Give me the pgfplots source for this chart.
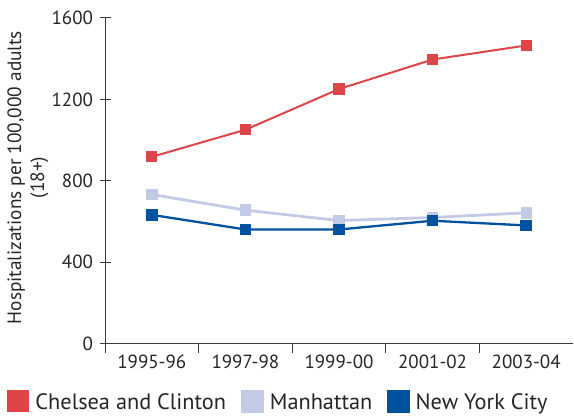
\documentclass[border=0pt]{standalone}
\usepackage{pgfplots}
\pgfplotsset{compat=1.18}
\usepackage{fontspec}
\setmainfont{PT Sans}
\definecolor{cred}{HTML}{DE4548}
\definecolor{clav}{HTML}{C3CAE6}
\definecolor{cblue}{HTML}{00519E}
\definecolor{axc}{HTML}{3A3A3A}
\begin{document}
\begin{tikzpicture}
\begin{axis}[
  name=ax,
  width=468pt, height=325.7pt, scale only axis,
  xmin=-0.5, xmax=4.5, ymin=0, ymax=1600,
  axis x line*=bottom, axis y line*=left,
  axis line style={axc, line width=1pt},
  xtick={0,1,2,3,4},
  xticklabels={1995-96,1997-98,1999-00,2001-02,2003-04},
  xtick style={draw=none},
  extra x ticks={-0.5,0.5,1.5,2.5,3.5},
  extra x tick labels={},
  extra x tick style={tick align=outside, major tick length=9pt, xtick style={draw=axc, line width=1pt}},
  ytick={0,400,800,1200,1600},
  tick align=center, major tick length=11pt,
  ytick style={axc, line width=1pt},
  tick label style={font=\fontsize{19}{19}\selectfont, text=black!85},
  yticklabel style={xshift=-3pt},
  xticklabel style={yshift=-2pt},
  /pgf/number format/assume math mode=true,
  /pgf/number format/1000 sep={},
  ylabel={Hospitalizations per 100,000 adults\\(18+)},
  ylabel style={at={([xshift=-77pt,yshift=3.3pt]axis description cs:0,0.5)}, anchor=center,
    align=center, font=\fontsize{19.3}{23}\selectfont, text=black!85},
  legend style={at={([xshift=-97.7pt,yshift=-57.5pt]axis description cs:0,0)}, anchor=west,
    draw=none, legend columns=3, font=\fontsize{22.3}{22}\selectfont, text=black!85,
    inner sep=0pt, nodes={inner sep=0pt},
    /tikz/every odd column/.append style={column sep=6pt},
    /tikz/every even column/.append style={column sep=15pt}},
  legend image code/.code={\fill[#1] (0pt,-9pt) rectangle (20pt,11.5pt);},
]
\addplot[cred, line width=2pt, mark=square*, mark size=4.6pt] coordinates {(0,918) (1,1051) (2,1251) (3,1396) (4,1465)};
\addlegendentry{Chelsea and Clinton}
\addplot[clav, line width=2.8pt, mark=square*, mark size=4.3pt] coordinates {(0,733) (1,656) (2,605) (3,620) (4,643)};
\addlegendentry{Manhattan}
\addplot[cblue, line width=2.3pt, mark=square*, mark size=4.6pt] coordinates {(0,633) (1,561) (2,561) (3,604) (4,581)};
\addlegendentry{New York City}
\end{axis}
\useasboundingbox ([xshift=-105pt,yshift=-72.3pt]ax.south west) rectangle ([xshift=1pt,yshift=18pt]ax.north east);
\end{tikzpicture}
\end{document}
